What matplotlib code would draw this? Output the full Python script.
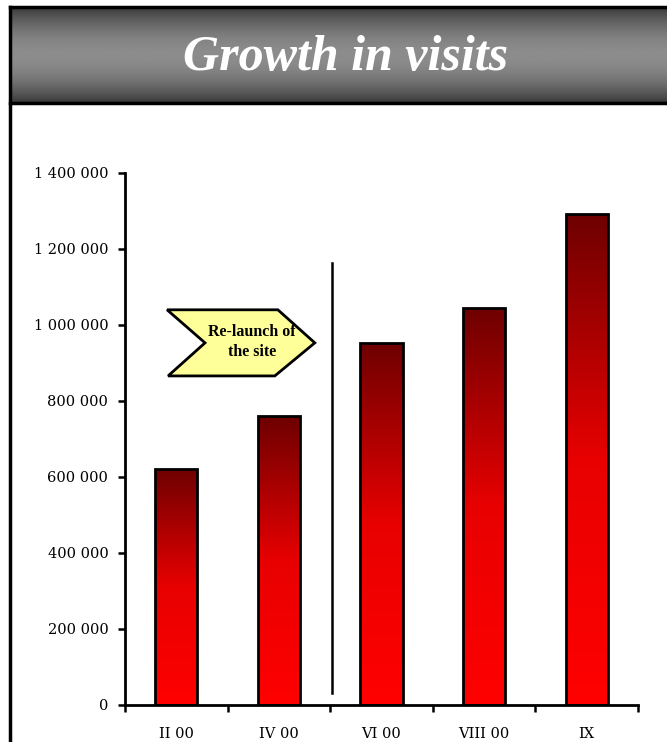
import matplotlib
matplotlib.use("Agg")
import matplotlib.pyplot as plt
import numpy as np
from matplotlib.colors import LinearSegmentedColormap
from matplotlib.patches import Polygon, Rectangle
from matplotlib.ticker import FuncFormatter

# data
months = ["II 00", "IV 00", "VI 00", "VIII 00", "IX"]
visits = [622000, 760000, 953000, 1045000, 1292000]
y_ticks = [0, 200000, 400000, 600000, 800000, 1000000, 1200000, 1400000]
title = "Growth in visits"
callout = "Re-launch of\nthe site"

serif = ["Liberation Serif", "DejaVu Serif"]
wide_serif = ["DejaVu Serif"]
W, H = 667, 742

fig = plt.figure(figsize=(W / 100, H / 100), dpi=100)

# title banner with vertical grey gradient
ban = fig.add_axes([10 / W, 1 - 103 / H, 1 - 10 / W, 96 / H])
t = np.linspace(0, 1, 200)
shade = 0.22 + 0.33 * np.sin(np.pi * t) ** 0.9
ban.imshow(shade[:, None], cmap="gray", vmin=0, vmax=1, aspect="auto",
           extent=[0, 1, 0, 1])
ban.set_xlim(0, 1)
ban.set_ylim(0, 1)
ban.axis("off")
ban.text(0.511, 0.47, title, color="white", fontsize=36, fontweight="bold",
         fontstyle="italic", family=serif, ha="center", va="center")

# frame lines
fig.add_artist(plt.Line2D([10 / W, 10 / W], [0, 1 - 7 / H], color="black", lw=2.5))
fig.add_artist(plt.Line2D([10 / W, 1], [1 - 7 / H, 1 - 7 / H], color="black", lw=2.5))
fig.add_artist(plt.Line2D([10 / W, 1], [1 - 103 / H, 1 - 103 / H], color="black", lw=2.5))

ax = fig.add_axes([125 / W, 1 - 705 / H, 513 / W, 532 / H])
x = np.arange(len(months))

red = LinearSegmentedColormap.from_list("redgrad", ["#ff0000", "#e80000", "#6e0000"])
grad = np.linspace(0, 1, 256)[:, None]
bars = ax.bar(x, visits, width=0.41, color="none", edgecolor="black", lw=2, zorder=3)
for b in bars:
    x0, w, h = b.get_x(), b.get_width(), b.get_height()
    im = ax.imshow(grad, cmap=red, origin="lower", aspect="auto",
                   extent=[x0, x0 + w, 0, h], zorder=2)
    im.set_clip_path(Rectangle((x0, 0), w, h, transform=ax.transData))
ax.set_xlim(-0.5, len(months) - 0.5)
ax.set_ylim(0, 1400000)

# separator line and callout arrow
ax.plot([1.52, 1.52], [32000, 1163000], color="black", lw=1.8)
arrow = Polygon([(-0.09, 1040000), (0.99, 1040000), (1.35, 953000),
                 (0.96, 866000), (-0.08, 866000), (0.28, 953000)],
                closed=True, facecolor="#ffff99", edgecolor="black", lw=2, zorder=4)
ax.add_patch(arrow)
ax.text(0.74, 955000, callout, ha="center", va="center", fontsize=11.5,
        fontweight="bold", family=serif, zorder=5, linespacing=1.3)

ax.spines["top"].set_visible(False)
ax.spines["right"].set_visible(False)
ax.spines["left"].set_linewidth(2)
ax.spines["bottom"].set_linewidth(2)

ax.set_yticks(y_ticks)
ax.yaxis.set_major_formatter(FuncFormatter(lambda v, p: f"{int(v):,}".replace(",", " ")))
ax.tick_params(axis="y", direction="out", length=5, width=1.8, pad=7, labelsize=10.5)

ax.set_xticks(x)
ax.set_xticklabels(months)
ax.set_xticks(np.arange(-0.5, len(months)), minor=True)
ax.tick_params(axis="x", which="major", length=0, pad=16, labelsize=10.5)
ax.tick_params(axis="x", which="minor", direction="out", length=5, width=1.8)
for lbl in ax.get_xticklabels() + ax.get_yticklabels():
    lbl.set_family(wide_serif)

fig.savefig("out.png", dpi=100)
